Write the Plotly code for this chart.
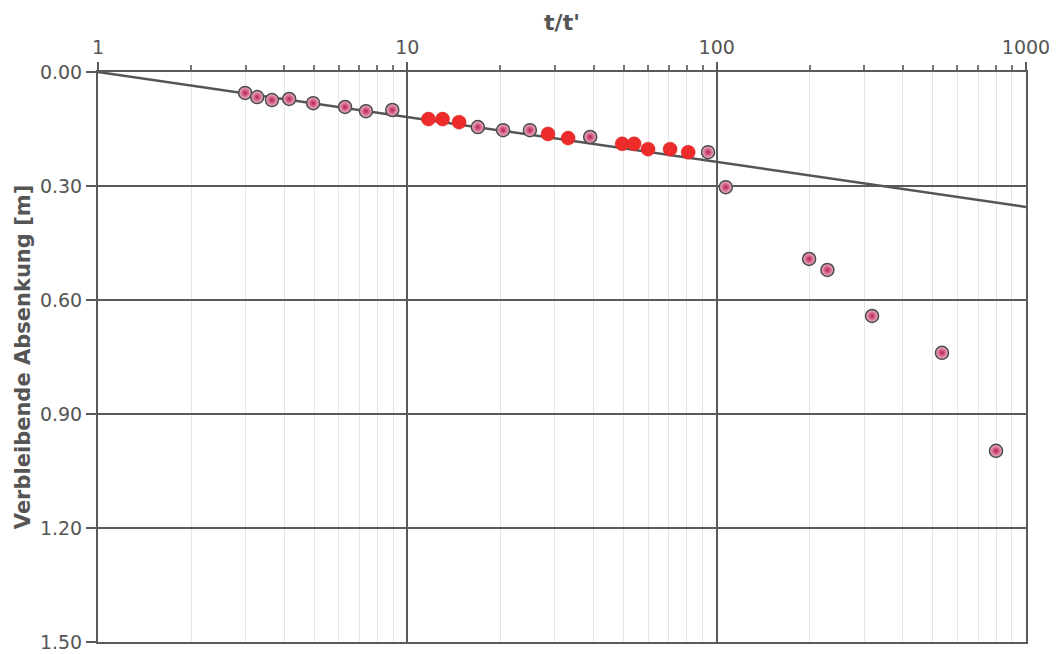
import plotly.graph_objects as go

# Data
x_pink = [2.99, 3.27, 3.65, 4.15, 4.96, 6.29, 7.35, 8.94, 16.9, 20.4, 24.9, 39.0, 93.8, 107, 199, 228, 318, 535, 800]
y_pink = [0.055, 0.066, 0.074, 0.071, 0.082, 0.092, 0.103, 0.100, 0.145, 0.153, 0.153, 0.171, 0.211, 0.303, 0.492, 0.521, 0.642, 0.739, 0.997]
x_red = [11.7, 13.0, 14.7, 28.5, 33.1, 49.5, 54.1, 60.0, 70.7, 80.9]
y_red = [0.124, 0.124, 0.132, 0.163, 0.174, 0.189, 0.189, 0.203, 0.203, 0.211]
x_line = [1, 1000]
y_line = [0.0, 0.355]
x_ticks = [1, 10, 100, 1000]
x_minor_ticks = [2, 3, 4, 5, 6, 7, 8, 9, 20, 30, 40, 50, 60, 70, 80, 90,
                 200, 300, 400, 500, 600, 700, 800, 900]
y_ticks = [0.0, 0.3, 0.6, 0.9, 1.2, 1.5]
y_ticklabels = ["0.00", "0.30", "0.60", "0.90", "1.20", "1.50"]

axis_col = "#5a5a5a"
font_fam = "DejaVu Sans, Verdana, sans-serif"

fig = go.Figure()
fig.add_trace(go.Scatter(
    x=x_line, y=y_line, mode="lines",
    line=dict(color="#555555", width=2.5), showlegend=False, hoverinfo="skip"))
fig.add_trace(go.Scatter(
    x=x_pink, y=y_pink, mode="markers", showlegend=False,
    marker=dict(size=13, color="#f2bccb",
                gradient=dict(type="radial", color="#b81e50"),
                line=dict(color="#4a4a4a", width=1.5))))
fig.add_trace(go.Scatter(
    x=x_red, y=y_red, mode="markers", showlegend=False,
    marker=dict(size=14, color="#ee2b2b", line=dict(color="#d42020", width=0.5))))

fig.update_xaxes(
    type="log", range=[0, 3], side="top", automargin=False,
    tickvals=x_ticks, ticktext=[str(v) for v in x_ticks],
    showgrid=True, gridcolor=axis_col, gridwidth=1.5,
    showline=True, linecolor=axis_col, linewidth=2, mirror=True,
    ticks="outside", ticklen=8, tickcolor=axis_col, tickwidth=1.5,
    tickfont=dict(family=font_fam, size=19, color="#555555"),
    minor=dict(tickvals=x_minor_ticks, showgrid=True, gridcolor="#e6e6e6", gridwidth=1,
               ticks="outside", ticklen=5, tickcolor="#777777"),
    title=dict(text="<b>t/t'</b>", font=dict(family=font_fam, size=22, color="#555555"), standoff=0),
    zeroline=False,
)
fig.update_yaxes(
    range=[1.5, 0], tickvals=y_ticks, ticktext=y_ticklabels, automargin=False,
    showgrid=True, gridcolor=axis_col, gridwidth=1.5,
    showline=True, linecolor=axis_col, linewidth=2, mirror=True,
    ticks="outside", ticklen=10, tickcolor=axis_col, tickwidth=1.5,
    tickfont=dict(family=font_fam, size=19, color="#555555"),
    title=dict(text="<b>Verbleibende Absenkung [m]</b>", font=dict(family=font_fam, size=21, color="#555555"), standoff=4),
    zeroline=False,
)
fig.update_layout(
    width=1049, height=646,
    margin=dict(l=90, r=31, t=64, b=12),
    paper_bgcolor="white", plot_bgcolor="white",
)
fig.write_html("out.html")
